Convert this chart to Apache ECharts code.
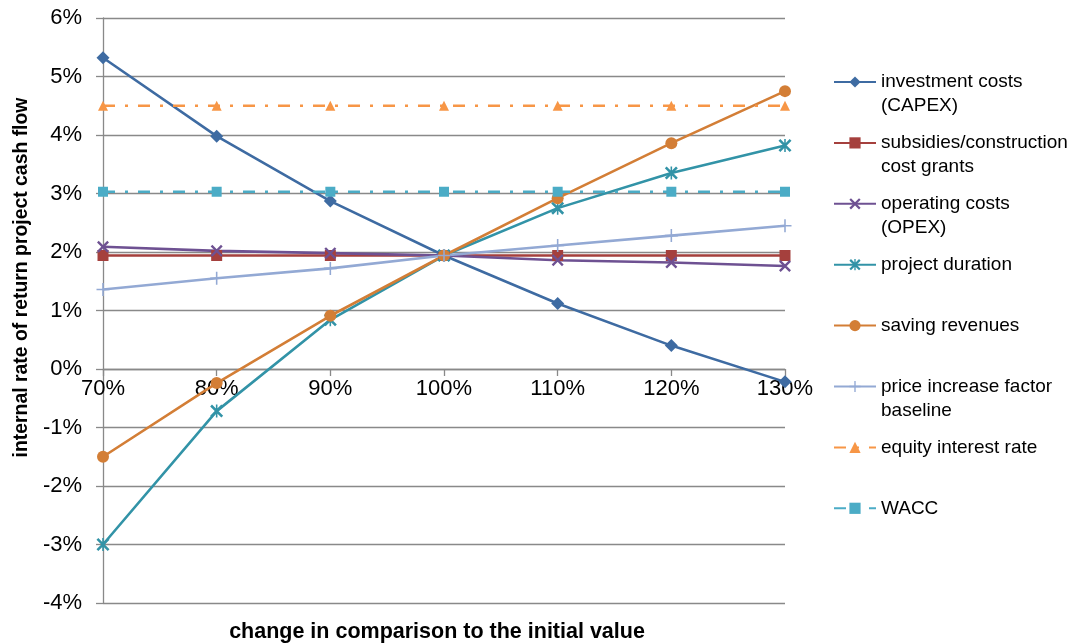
<!DOCTYPE html>
<html>
<head>
<meta charset="utf-8">
<script src="https://cdn.jsdelivr.net/npm/echarts@6/dist/echarts.min.js"></script>
<style>
  html, body { margin: 0; padding: 0; background: #fff; }
  #chart { width: 1072px; height: 644px; }
</style>
</head>
<body>
<div id="chart"></div>
<script>
// Sensitivity of the project IRR to changes of single input parameters
const categories = ['70%', '80%', '90%', '100%', '110%', '120%', '130%'];

const investmentCosts = [5.32, 3.98, 2.87, 1.94, 1.12, 0.40, -0.22];
const subsidies       = [1.94, 1.94, 1.94, 1.94, 1.94, 1.94, 1.94];
const operatingCosts  = [2.09, 2.02, 1.98, 1.94, 1.86, 1.82, 1.76];
const projectDuration = [-3.00, -0.72, 0.84, 1.94, 2.75, 3.35, 3.82];
const savingRevenues  = [-1.50, -0.24, 0.91, 1.94, 2.92, 3.86, 4.75];
const priceIncrease   = [1.36, 1.55, 1.72, 1.94, 2.11, 2.28, 2.45];
const equityInterest  = [4.50, 4.50, 4.50, 4.50, 4.50, 4.50, 4.50];
const wacc            = [3.03, 3.03, 3.03, 3.03, 3.03, 3.03, 3.03];

const yMin = -4, yMax = 6, yStep = 1;

const seriesNames = [
  'investment costs (CAPEX)',
  'subsidies/construction cost grants',
  'operating costs (OPEX)',
  'project duration',
  'saving revenues',
  'price increase factor baseline',
  'equity interest rate',
  'WACC'
];
const legendLabels = [
  'investment costs\n(CAPEX)',
  'subsidies/construction\ncost grants',
  'operating costs\n(OPEX)',
  'project duration',
  'saving revenues',
  'price increase factor\nbaseline',
  'equity interest rate',
  'WACC'
];
const xTitle = 'change in comparison to the initial value';
const yTitle = 'internal rate of return project cash flow';

// marker shapes built as filled polygons
const SYM_X = 'path://M0,1.4 L1.4,0 L10,8.6 L8.6,10 Z M8.6,0 L10,1.4 L1.4,10 L0,8.6 Z';
const SYM_STAR = 'path://M0,1.4 L1.4,0 L10,8.6 L8.6,10 Z M8.6,0 L10,1.4 L1.4,10 L0,8.6 Z M4.4,0 L5.6,0 L5.6,10 L4.4,10 Z';
const SYM_PLUS = 'path://M0,4.4 L10,4.4 L10,5.6 L0,5.6 Z M4.4,0 L5.6,0 L5.6,10 L4.4,10 Z';
const DASH_DOT = [12, 10, 3, 10];

const styles = [
  { color: '#3E6BA2', symbol: 'diamond', size: [13, 13] },
  { color: '#A5403D', symbol: 'rect', size: 11 },
  { color: '#6E5192', symbol: SYM_X, size: 12 },
  { color: '#3293A7', symbol: SYM_STAR, size: 13 },
  { color: '#D37E36', symbol: 'circle', size: 12 },
  { color: '#93A9D4', symbol: SYM_PLUS, size: 13 },
  { color: '#F79646', symbol: 'triangle', size: 10, dash: DASH_DOT },
  { color: '#4BACC6', symbol: 'rect', size: 10, dash: DASH_DOT }
];
const seriesData = [investmentCosts, subsidies, operatingCosts, projectDuration,
                    savingRevenues, priceIncrease, equityInterest, wacc];

const FONT = "'Liberation Sans', Arial, sans-serif";
const GRID_COLOR = '#898989';

// plot box
const G = { left: 103, right: 287, top: 18, bottom: 41 };
const plotH = 644 - G.top - G.bottom;
// shift the category axis up so it runs along the 0 % line
const xAxisOffset = -plotH * (0 - yMin) / (yMax - yMin);

const series = seriesNames.map((name, i) => ({
  name: name,
  type: 'line',
  data: seriesData[i],
  symbol: styles[i].symbol,
  symbolSize: styles[i].size,
  showSymbol: true,
  animation: false,
  lineStyle: { color: styles[i].color, width: 2.6, type: styles[i].dash || 'solid' },
  itemStyle: { color: styles[i].color, borderWidth: 0 },
  emphasis: { disabled: true }
}));

// one legend block per series so each label can wrap under its first line
const legendY0 = 82, legendStep = 60.9;
const legends = seriesNames.map((name, i) => {
  const multi = legendLabels[i].indexOf('\n') >= 0;
  const text = multi ? '\n' + legendLabels[i] : legendLabels[i];
  const lines = multi ? 3 : 1;
  return {
    data: [name],
    left: 833,
    top: legendY0 + i * legendStep - lines * 12,
    itemWidth: 42,
    itemHeight: 14,
    padding: 0,
    selectedMode: false,
    formatter: () => text,
    textStyle: { fontFamily: FONT, fontSize: 19, lineHeight: 24, color: '#000' }
  };
});

const chart = echarts.init(document.getElementById('chart'), null, { renderer: 'canvas' });
chart.setOption({
  backgroundColor: '#fff',
  animation: false,
  title: {
    text: xTitle,
    left: 437,
    top: 621,
    textAlign: 'center',
    padding: 0,
    textStyle: { fontFamily: FONT, fontWeight: 'bold', fontSize: 21.5, color: '#000' }
  },
  grid: { left: G.left, right: G.right, top: G.top, bottom: G.bottom,
          containLabel: false, outerBoundsMode: 'none' },
  legend: legends,
  xAxis: {
    type: 'category',
    data: categories,
    boundaryGap: false,
    offset: xAxisOffset,
    axisLine: { show: true, onZero: false, lineStyle: { color: GRID_COLOR, width: 1.3 } },
    axisTick: { show: true, inside: false, length: 7, alignWithLabel: true,
                lineStyle: { color: GRID_COLOR, width: 1.3 } },
    axisLabel: { interval: 0, margin: 9, fontFamily: FONT, fontSize: 22, color: '#000' },
    splitLine: { show: false }
  },
  yAxis: {
    type: 'value',
    min: yMin,
    max: yMax,
    interval: yStep,
    name: yTitle,
    nameLocation: 'middle',
    nameGap: 72,
    nameTextStyle: { fontFamily: FONT, fontWeight: 'bold', fontSize: 19.4, color: '#000',
                     padding: [0, 0, 0, 66] },
    axisLine: { show: true, lineStyle: { color: GRID_COLOR, width: 1.3 } },
    axisTick: { show: true, inside: false, length: 7, lineStyle: { color: GRID_COLOR, width: 1.3 } },
    axisLabel: { margin: 21, fontFamily: FONT, fontSize: 22, color: '#000', formatter: '{value}%' },
    splitLine: { show: true, lineStyle: { color: GRID_COLOR, width: 1.3 } }
  },
  series: series
});
</script>
</body>
</html>
